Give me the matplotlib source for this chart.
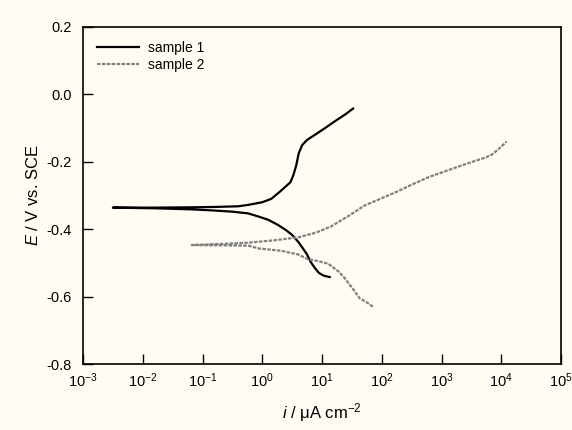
import matplotlib.pyplot as plt
import numpy as np

plt.rcParams['font.family'] = ['Liberation Sans', 'DejaVu Sans']
plt.rcParams['mathtext.fontset'] = 'custom'
plt.rcParams['mathtext.rm'] = 'Liberation Sans'
plt.rcParams['mathtext.it'] = 'Liberation Sans:italic'

# sample 1 : cathodic branch (from the tip outwards) then anodic branch
s1_cat_log = [-2.50, -1.8, -1.2, -0.86, -0.5, -0.24, -0.07, 0.10, 0.26, 0.40, 0.50,
              0.60, 0.68, 0.75, 0.81, 0.88, 0.95, 1.03, 1.13]
s1_cat_E = [-0.336, -0.338, -0.341, -0.344, -0.348, -0.353, -0.362, -0.372, -0.387,
            -0.403, -0.417, -0.437, -0.457, -0.475, -0.497, -0.515, -0.530, -0.538, -0.542]
s1_an_log = [-2.50, -1.8, -1.2, -0.8, -0.4, -0.24, 0.0, 0.15, 0.28, 0.40, 0.47, 0.52,
             0.57, 0.61, 0.67, 0.75, 0.89, 1.05, 1.23, 1.40, 1.52]
s1_an_E = [-0.336, -0.336, -0.335, -0.334, -0.332, -0.328, -0.320, -0.310, -0.291,
           -0.272, -0.261, -0.240, -0.210, -0.175, -0.150, -0.135, -0.119, -0.100,
           -0.078, -0.058, -0.042]

# sample 2
s2_cat_log = [-1.18, -0.6, -0.23, -0.06, 0.32, 0.6, 0.78, 0.95, 1.11, 1.28, 1.38,
              1.46, 1.55, 1.63, 1.75, 1.85]
s2_cat_E = [-0.447, -0.448, -0.449, -0.457, -0.464, -0.475, -0.490, -0.495, -0.503,
            -0.526, -0.545, -0.564, -0.585, -0.605, -0.617, -0.630]
s2_an_log = [-1.18, -0.6, -0.23, 0.2, 0.61, 0.9, 1.15, 1.45, 1.71, 2.0, 2.25, 2.5,
             2.79, 3.0, 3.19, 3.4, 3.62, 3.73, 3.85, 3.95, 4.09]
s2_an_E = [-0.445, -0.443, -0.440, -0.433, -0.424, -0.410, -0.392, -0.360, -0.330,
           -0.308, -0.289, -0.268, -0.245, -0.232, -0.220, -0.207, -0.194, -0.188,
           -0.178, -0.163, -0.140]

bg = '#fffdf3'
fig = plt.figure(figsize=(5.72, 4.30), dpi=100, facecolor=bg)
ax = fig.add_axes([83/572, 66/430, 478/572, 337/430], facecolor=bg)

# one continuous curve per sample: cathodic end -> tip -> anodic end
log1 = s1_cat_log[::-1] + s1_an_log[1:]
E1 = s1_cat_E[::-1] + s1_an_E[1:]
log2 = s2_cat_log[::-1] + s2_an_log[1:]
E2 = s2_cat_E[::-1] + s2_an_E[1:]

ax.plot(10**np.array(log1), E1, color='black', lw=1.6, label='sample 1')
ax.plot(10**np.array(log2), E2, color='#808080', lw=1.6, ls=(0, (1.6, 0.6)),
        label='sample 2')

ax.set_xscale('log')
ax.set_xlim(1e-3, 1e5)
ax.set_ylim(-0.8, 0.2)
ax.set_xticks([10.0**k for k in range(-3, 6)])
ax.minorticks_off()
ax.set_yticks([-0.8, -0.6, -0.4, -0.2, 0.0, 0.2])
ax.set_yticklabels(['-0.8', '-0.6', '-0.4', '-0.2', '0.0', '0.2'])
ax.tick_params(direction='in', length=7, width=1.0, labelsize=10.5)
ax.tick_params(axis='y', pad=8)
ax.tick_params(axis='x', pad=5)
for s in ax.spines.values():
    s.set_linewidth(1.2)

ax.set_xlabel(r'$i$ / μA cm$^{-2}$', fontsize=12, labelpad=8)
ax.set_ylabel(r'$E$ / V vs. SCE', fontsize=12, labelpad=4)

ax.legend(loc='upper left', frameon=False, fontsize=10, handlelength=3.0,
          borderaxespad=0.6, labelspacing=0.2, handletextpad=0.7)

fig.savefig('out.png', dpi=100, facecolor=bg)
